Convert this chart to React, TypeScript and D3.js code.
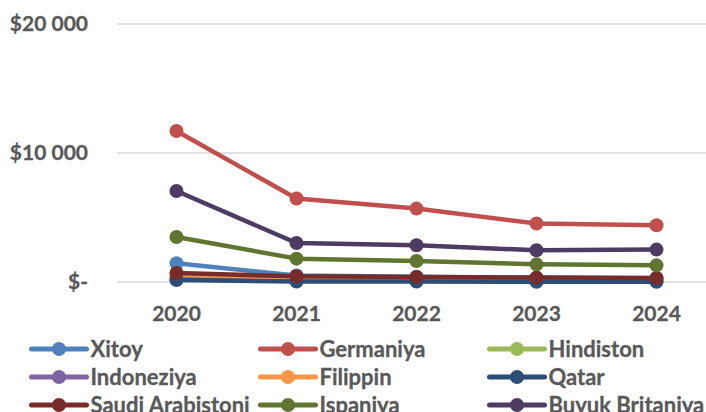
import React from "react";
import * as d3 from "d3";

const years = ["2020", "2021", "2022", "2023", "2024"];
const yTicks = [0, 10000, 20000];
const yTickLabels = ["$-", "$10 000", "$20 000"];

const seriesNames = [
  "Xitoy",
  "Germaniya",
  "Hindiston",
  "Indoneziya",
  "Filippin",
  "Qatar",
  "Saudi Arabistoni",
  "Ispaniya",
  "Buyuk Britaniya",
];
const seriesColors = [
  "#4F81BD",
  "#C0504D",
  "#9BBB59",
  "#8064A2",
  "#F79646",
  "#2C4D75",
  "#772C2A",
  "#5F7530",
  "#4D3B62",
];
const xitoy = [1450, 500, 400, 330, 300];
const germaniya = [11700, 6470, 5690, 4530, 4400];
const hindiston = [300, 150, 120, 100, 100];
const indoneziya = [200, 100, 100, 80, 80];
const filippin = [600, 300, 250, 200, 200];
const qatar = [150, 30, 30, 20, 20];
const saudi = [700, 440, 390, 340, 310];
const ispaniya = [3490, 1810, 1630, 1370, 1290];
const britaniya = [7050, 3020, 2850, 2460, 2510];
const seriesValues = [xitoy, germaniya, hindiston, indoneziya, filippin, qatar, saudi, ispaniya, britaniya];

const W = 706;
const H = 412;
const FONT = "Lato, 'Open Sans', sans-serif";
const TEXT = "#595959";

export default function App() {
  const x = d3.scaleBand<string>().domain(years).range([116.5, 716.5]);
  const y = d3.scaleLinear().domain([0, 20000]).range([282, 24]);
  const cx = (yr: string) => (x(yr) as number) + x.bandwidth() / 2;
  const line = d3
    .line<number>()
    .x((_, i) => cx(years[i]))
    .y((d) => y(d));

  const legendCols = [31.5, 260.5, 489.5];
  const legendRows = [349, 377, 405];

  return (
    <svg
      width={W}
      height={H}
      style={{ position: "absolute", left: 0, top: 0, background: "#fff" }}
      fontFamily={FONT}
      fontWeight="bold"
    >
      {yTicks.map((t, i) => (
        <g key={t}>
          <line x1={117} x2={W} y1={y(t)} y2={y(t)} stroke="#d9d9d9" strokeWidth={1.5} />
          <text x={88} y={y(t) + 7} textAnchor="end" fill={TEXT} stroke={TEXT} strokeWidth={0.3} fontSize={21}>
            {yTickLabels[i]}
          </text>
        </g>
      ))}
      {years.map((yr) => (
        <text key={yr} x={cx(yr)} y={321} textAnchor="middle" fill={TEXT} stroke={TEXT} strokeWidth={0.3} fontSize={21}>
          {yr}
        </text>
      ))}
      {seriesValues.map((vals, si) => (
        <g key={seriesNames[si]}>
          <path d={line(vals) || ""} fill="none" stroke={seriesColors[si]} strokeWidth={4.5} strokeLinejoin="round" />
          {vals.map((v, i) => (
            <circle key={i} cx={cx(years[i])} cy={y(v)} r={7} fill={seriesColors[si]} />
          ))}
        </g>
      ))}
      {seriesNames.map((name, si) => {
        const lx = legendCols[si % 3];
        const ly = legendRows[Math.floor(si / 3)];
        return (
          <g key={name}>
            <line x1={lx} x2={lx + 55} y1={ly} y2={ly} stroke={seriesColors[si]} strokeWidth={5} strokeLinecap="round" />
            <circle cx={lx + 27.5} cy={ly} r={7} fill={seriesColors[si]} />
            <text x={lx + 59} y={ly + 7.5} fill={TEXT} stroke={TEXT} strokeWidth={0.3} fontSize={22}>
              {name}
            </text>
          </g>
        );
      })}
    </svg>
  );
}
